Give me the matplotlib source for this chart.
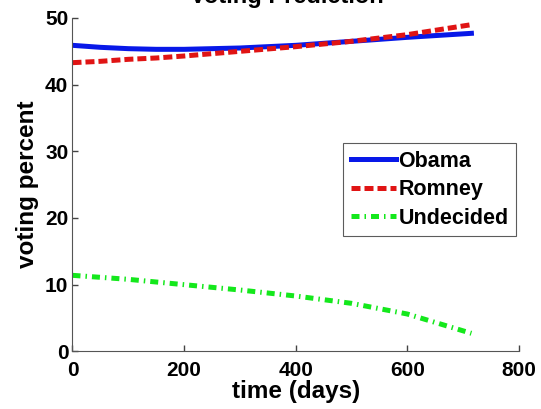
import matplotlib
matplotlib.use('Agg')
import matplotlib.pyplot as plt

# values
days = [0, 50, 100, 150, 200, 300, 400, 500, 600, 715]
obama = [45.9, 45.6, 45.4, 45.3, 45.3, 45.5, 45.9, 46.5, 47.1, 47.7]
romney = [43.3, 43.5, 43.8, 44.0, 44.3, 45.0, 45.7, 46.5, 47.5, 49.0]
undecided = [11.4, 11.1, 10.8, 10.4, 10.0, 9.2, 8.3, 7.2, 5.6, 2.7]

plt.rcParams['font.family'] = ['Liberation Sans', 'DejaVu Sans']
plt.rcParams['font.weight'] = 'bold'

fig = plt.figure(figsize=(5.41, 4.09), dpi=100)
ax = fig.add_axes([0.134, 0.141, 0.825, 0.815])

lw = 3.6
ax.plot(days, obama, color='#0818e8', lw=lw, label='Obama')
ax.plot(days, romney, color='#e01414', lw=lw, dashes=(1.8, 0.8), label='Romney')
ax.plot(days, undecided, color='#14e81c', lw=lw, dashes=(1.6, 1.0, 0.3, 1.0), label='Undecided')

ax.set_xlim(0, 800)
ax.set_ylim(0, 50)
ax.set_xticks([0, 200, 400, 600, 800])
ax.set_yticks([0, 10, 20, 30, 40, 50])
ax.tick_params(direction='in', length=4, labelsize=15, width=1, colors='#444444',
               labelcolor='black', pad=3)
ax.tick_params(axis='x', pad=7)
for s in ['top', 'right']:
    ax.spines[s].set_visible(False)
for s in ['left', 'bottom']:
    ax.spines[s].set_color('#555555')

ax.set_xlabel('time (days)', fontsize=17.5, fontweight='bold', labelpad=0)
ax.set_ylabel('voting percent', fontsize=17.5, fontweight='bold', labelpad=4)
ax.set_title('Voting Prediction', fontsize=17, fontweight='bold', pad=11, x=0.48)

leg = ax.legend(loc='upper left', bbox_to_anchor=(0.607, 0.625), fontsize=15.5,
                frameon=True, fancybox=False, handlelength=2.1, handletextpad=0.1,
                borderpad=0.35, labelspacing=0.35, borderaxespad=0)
leg.get_frame().set_edgecolor('#333333')
leg.get_frame().set_linewidth(0.8)

fig.savefig('out.png', dpi=100)
